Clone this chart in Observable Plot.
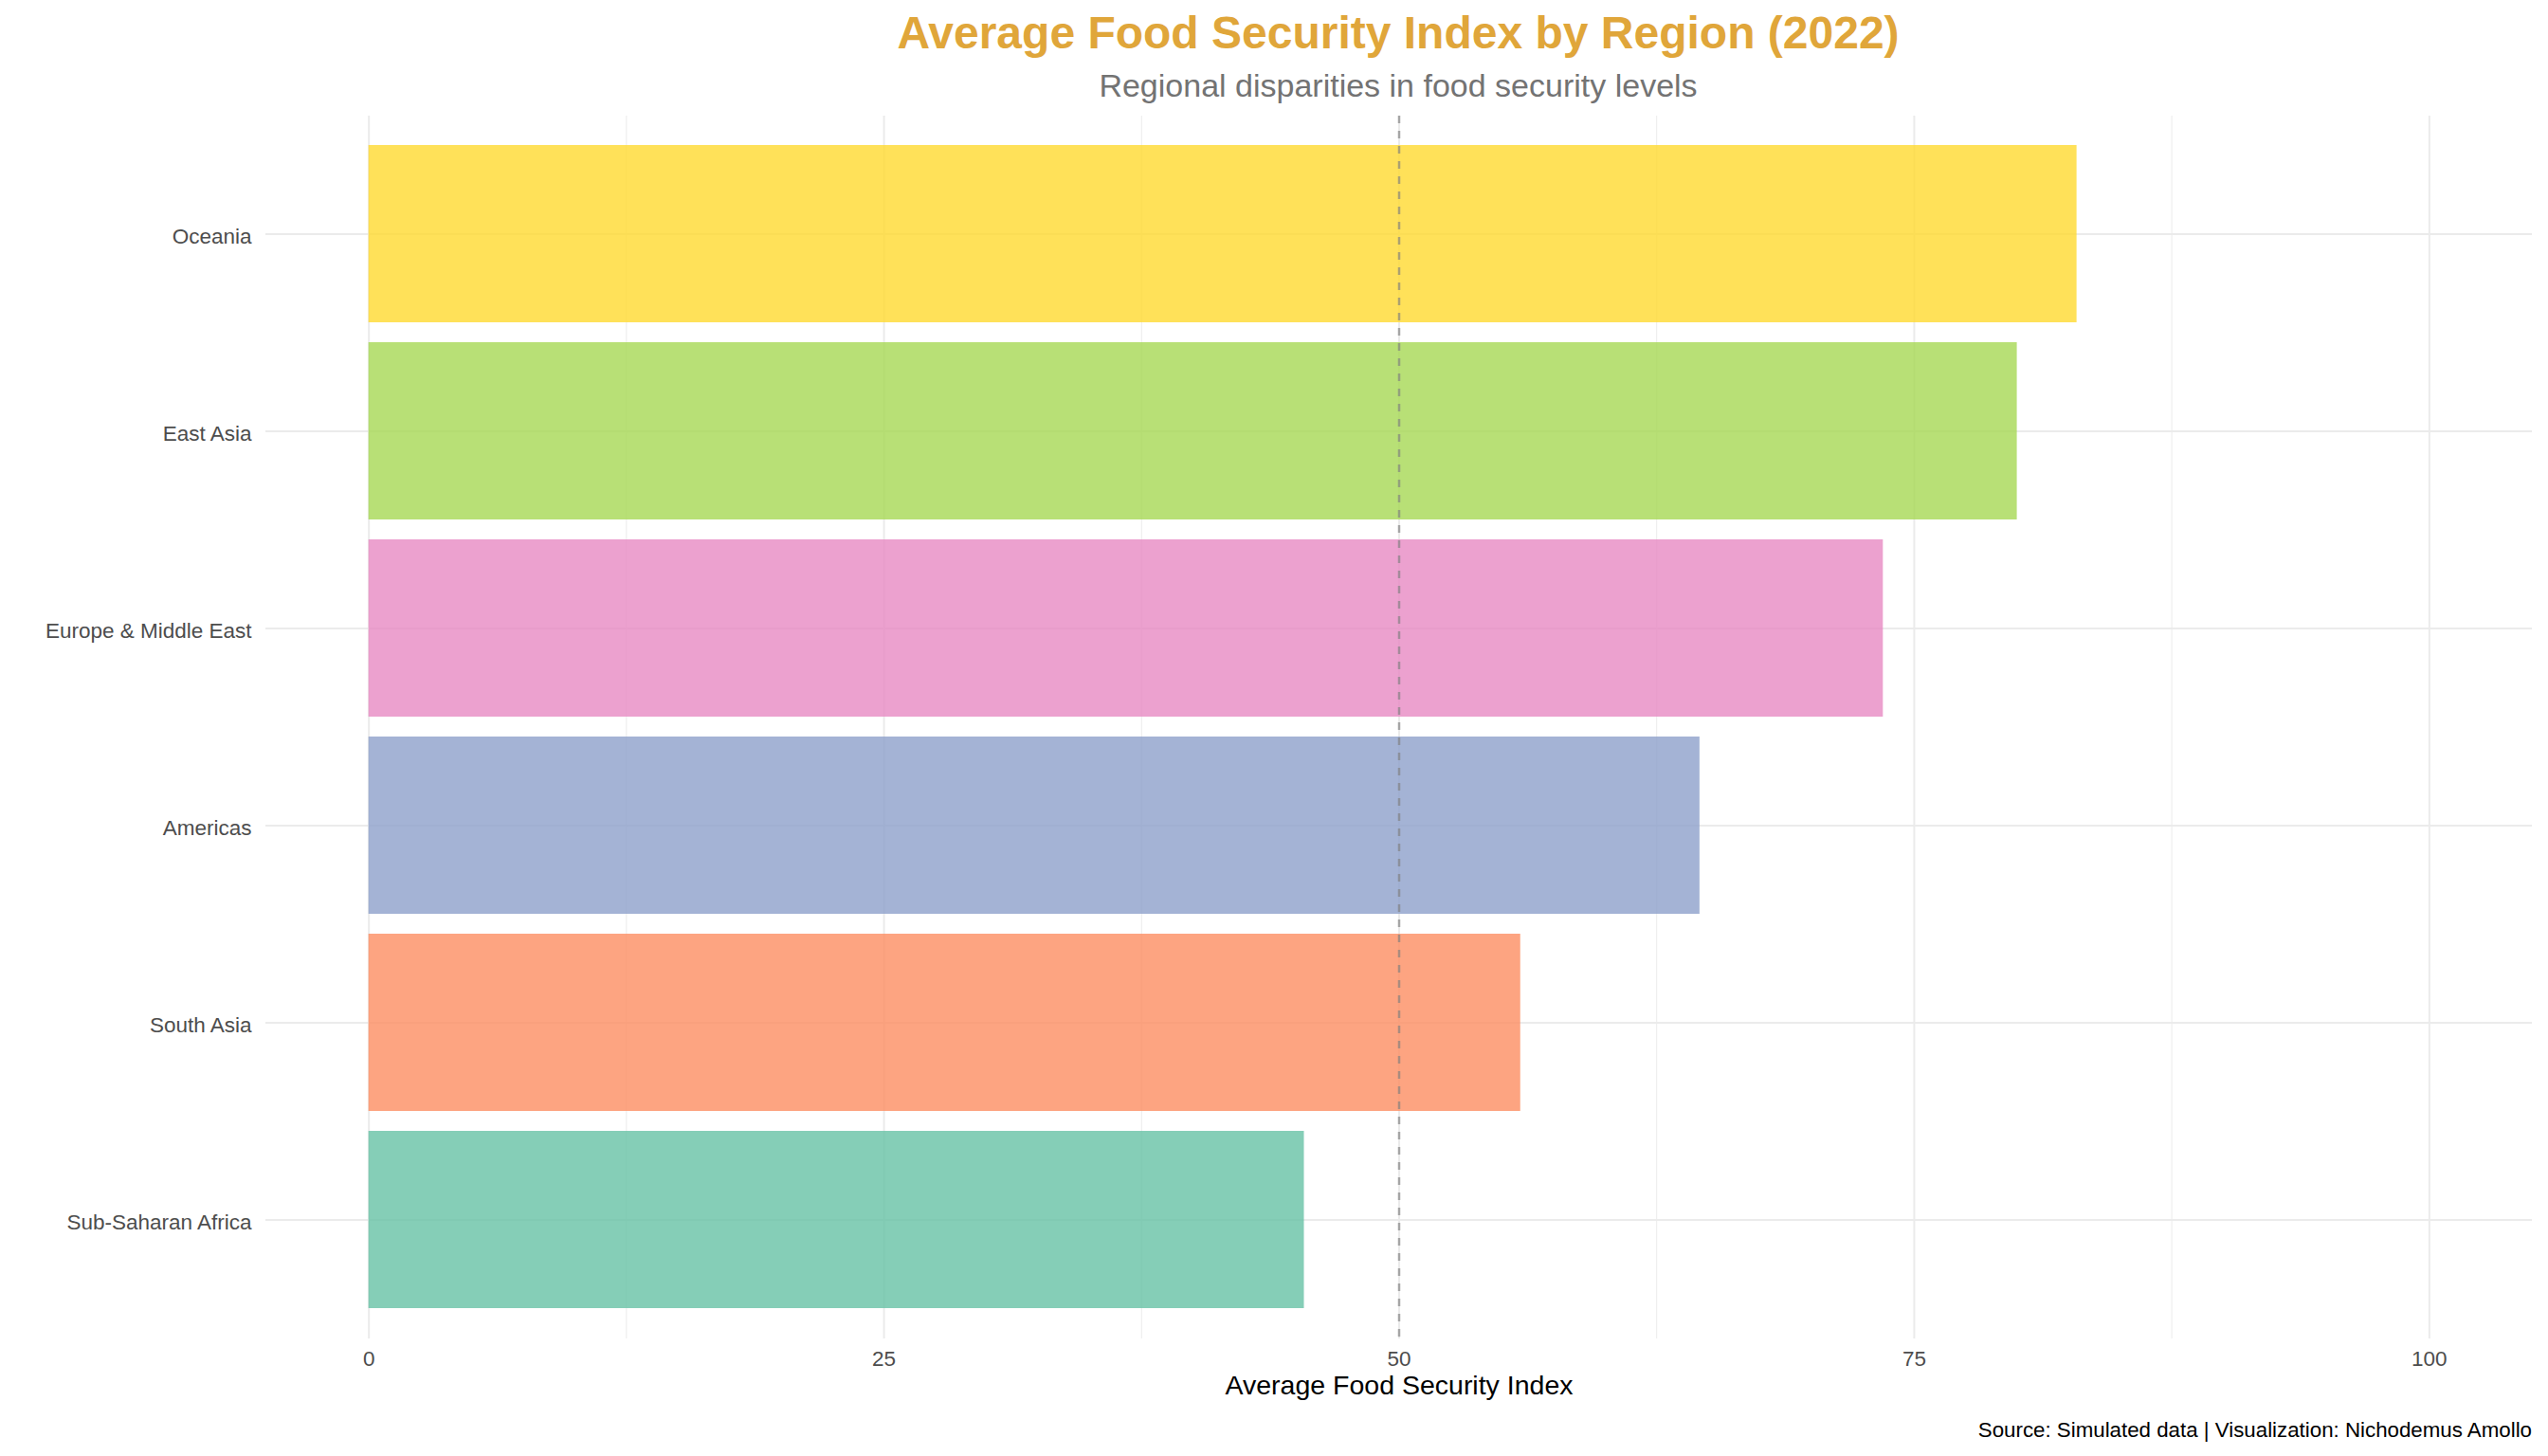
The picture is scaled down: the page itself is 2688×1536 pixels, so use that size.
<!DOCTYPE html>
<html>
<head>
<meta charset="utf-8">
<script src="https://cdn.jsdelivr.net/npm/d3@7"></script>
<script src="https://cdn.jsdelivr.net/npm/@observablehq/plot@0.6"></script>
<style>
  html, body { margin: 0; padding: 0; background: #fff; }
  #wrap { position: relative; width: 2688px; height: 1536px; overflow: hidden;
          font-family: "Liberation Sans", Arial, sans-serif; background: #fff; }
  #chart { position: absolute; left: 0; top: 0; }
  #title { position: absolute; left: 275px; width: 2400px; top: 11px; text-align: center;
           font-size: 48px; line-height: 1; font-weight: bold; color: #E0A63A; white-space: nowrap; }
  #subtitle { position: absolute; left: 275px; width: 2400px; top: 73px; text-align: center;
              font-size: 34px; line-height: 1; color: #737373; white-space: nowrap; }
  #caption { position: absolute; right: 17px; top: 1498px; text-align: right;
             font-size: 22.3px; line-height: 1; color: #000; white-space: nowrap; }
</style>
</head>
<body>
<div id="wrap">
  <div id="chart"></div>
  <div id="title">Average Food Security Index by Region (2022)</div>
  <div id="subtitle">Regional disparities in food security levels</div>
  <div id="caption">Source: Simulated data | Visualization: Nichodemus Amollo</div>
</div>
<script>
// Data
const regions = ["Oceania", "East Asia", "Europe & Middle East", "Americas", "South Asia", "Sub-Saharan Africa"];
const values = [82.9, 80.0, 73.5, 64.6, 55.9, 45.4];
const regionColors = ["#FFD92F", "#A6D854", "#E78AC3", "#8DA0CB", "#FC8D62", "#66C2A5"];
const xTicks = [0, 25, 50, 75, 100];
const xMinorTicks = [12.5, 37.5, 62.5, 87.5];
const referenceLine = [50];
const xLabel = "Average Food Security Index";

const data = regions.map((region, i) => ({region, value: values[i]}));

const chart = Plot.plot({
  width: 2688,
  height: 1536,
  marginLeft: 280,
  marginRight: 17,
  marginTop: 122,
  marginBottom: 124,
  style: {fontFamily: "Liberation Sans, Arial, sans-serif", background: "white"},
  x: {domain: [-5, 105], ticks: xTicks, label: null},
  y: {domain: regions, paddingInner: 0.1, paddingOuter: 0.15, label: null},
  color: {domain: regions, range: regionColors},
  marks: [
    Plot.ruleX(xMinorTicks, {stroke: "#EBEBEB", strokeWidth: 1}),
    Plot.ruleX(xTicks, {stroke: "#EBEBEB", strokeWidth: 2}),
    Plot.ruleY(regions, {y: d => d, stroke: "#EBEBEB", strokeWidth: 2}),
    Plot.barX(data, {x: "value", y: "region", fill: "region", fillOpacity: 0.8}),
    Plot.ruleX(referenceLine, {stroke: "#7F7F7F", strokeOpacity: 0.65, strokeWidth: 2.5, strokeDasharray: "8,8"}),
    Plot.axisX(xTicks, {tickSize: 0, tickPadding: 13, fontSize: 22.5, fill: "#4D4D4D", label: null}),
    Plot.axisY({tickSize: 0, tickPadding: 15, dy: 3, fontSize: 22.5, fill: "#4D4D4D", label: null}),
    Plot.text([xLabel], {text: d => d, frameAnchor: "bottom", dy: 58, fontSize: 28.5, fill: "#000"})
  ]
});

document.getElementById("chart").appendChild(chart);
</script>
</body>
</html>
